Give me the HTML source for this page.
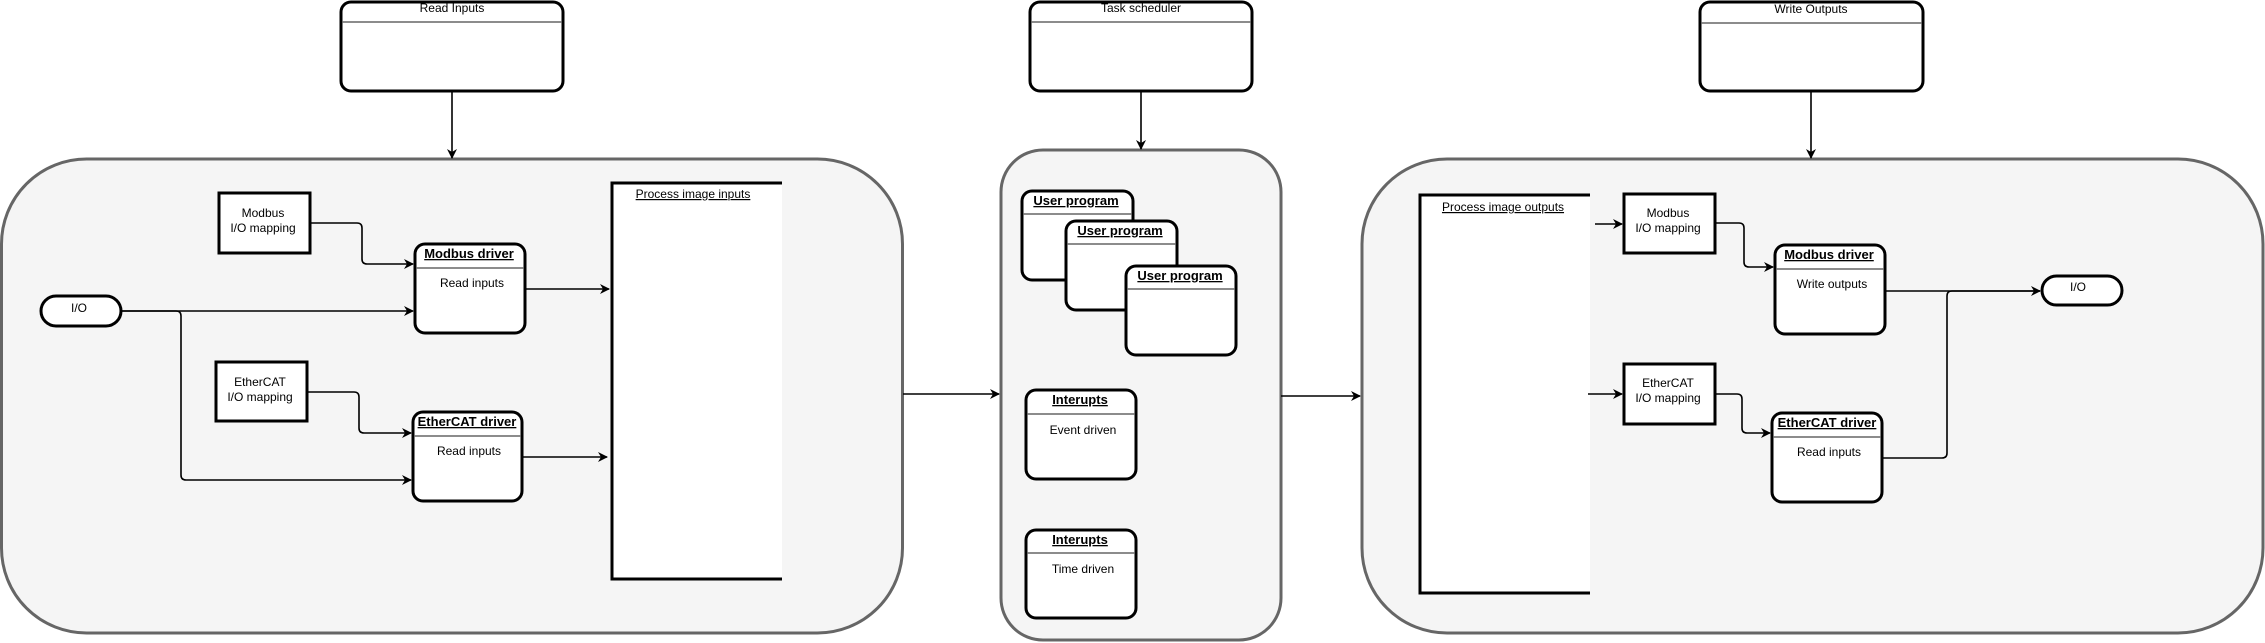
<!DOCTYPE html>
<html><head><meta charset="utf-8"><style>
html,body{margin:0;padding:0;background:#fff;}
svg{display:block;}
text{font-family:"Liberation Sans",Arial,sans-serif;fill:#000;}
.t{font-size:12px;}
.b{font-size:13px;font-weight:bold;text-decoration:underline;}
.u{font-size:12px;text-decoration:underline;}
.c{fill:#f5f5f5;stroke:#666;stroke-width:3;}
.n{fill:#fff;stroke:#000;stroke-width:3;}
.h{stroke:#666;stroke-width:1.5;}
.l{fill:none;stroke:#000;stroke-width:1.6;}
</style></head><body>
<svg width="2265" height="643" viewBox="0 0 2265 643" xmlns="http://www.w3.org/2000/svg">
<defs><marker id="a" markerWidth="10" markerHeight="10" refX="9" refY="5" orient="auto" markerUnits="userSpaceOnUse"><path d="M0,0 L10,5 L0,10 L3,5 Z" fill="#000"/></marker></defs>

<!-- containers -->
<rect class="c" x="1.5" y="159" width="901" height="474" rx="85"/>
<rect class="c" x="1001" y="150" width="280" height="490" rx="42"/>
<rect class="c" x="1362" y="159" width="901" height="474" rx="85"/>

<!-- top boxes -->
<rect class="n" x="341" y="2" width="222" height="89" rx="10"/><line class="h" x1="342" y1="22" x2="562" y2="22"/><text class="t" x="452" y="12" text-anchor="middle">Read Inputs</text>
<rect class="n" x="1030" y="2" width="222" height="89" rx="10"/><line class="h" x1="1031" y1="22" x2="1251" y2="22"/><text class="t" x="1141" y="12" text-anchor="middle">Task scheduler</text>
<rect class="n" x="1700" y="2" width="223" height="89" rx="10"/><line class="h" x1="1701" y1="23" x2="1922" y2="23"/><text class="t" x="1811" y="13" text-anchor="middle">Write Outputs</text>
<line class="l" x1="452" y1="91" x2="452" y2="158" marker-end="url(#a)"/>
<line class="l" x1="1141" y1="91" x2="1141" y2="149" marker-end="url(#a)"/>
<line class="l" x1="1811" y1="91" x2="1811" y2="158" marker-end="url(#a)"/>

<!-- left -->
<rect x="611" y="182" width="171" height="398" fill="#fff"/>
<path d="M782,183 H612 V579 H782" fill="none" stroke="#000" stroke-width="3"/>
<text class="u" x="693" y="198" text-anchor="middle">Process image inputs</text>
<rect class="n" x="219" y="193" width="91" height="60" stroke-width="2.5"/>
<text class="t" x="263" y="217" text-anchor="middle">Modbus</text><text class="t" x="263" y="232" text-anchor="middle">I/O mapping</text>
<rect class="n" x="216" y="362" width="91" height="59" stroke-width="2.5"/>
<text class="t" x="260" y="386" text-anchor="middle">EtherCAT</text><text class="t" x="260" y="401" text-anchor="middle">I/O mapping</text>
<rect class="n" x="41" y="296" width="80" height="30" rx="15"/><text class="t" x="79" y="312" text-anchor="middle">I/O</text>
<rect class="n" x="415" y="244" width="110" height="89" rx="10"/><line class="h" x1="416" y1="268" x2="524" y2="268"/>
<text class="b" x="469" y="258" text-anchor="middle">Modbus driver</text><text class="t" x="472" y="287" text-anchor="middle">Read inputs</text>
<rect class="n" x="413" y="412" width="109" height="89" rx="10"/><line class="h" x1="414" y1="436" x2="521" y2="436"/>
<text class="b" x="467" y="426" text-anchor="middle">EtherCAT driver</text><text class="t" x="469" y="455" text-anchor="middle">Read inputs</text>
<path class="l" d="M310,223 H357 Q362,223 362,228 V259 Q362,264 367,264 H413" marker-end="url(#a)"/>
<path class="l" d="M121,311 H413" marker-end="url(#a)"/>
<path class="l" d="M121,311 H176 Q181,311 181,316 V475 Q181,480 186,480 H411" marker-end="url(#a)"/>
<path class="l" d="M307,392 H354 Q359,392 359,397 V428 Q359,433 364,433 H411" marker-end="url(#a)"/>
<path class="l" d="M525,289 H609" marker-end="url(#a)"/>
<path class="l" d="M522,457 H607" marker-end="url(#a)"/>

<!-- between -->
<path class="l" d="M903,394 H999" marker-end="url(#a)"/>
<path class="l" d="M1281,396 H1360" marker-end="url(#a)"/>

<!-- middle -->
<rect class="n" x="1022" y="191" width="111" height="89" rx="10"/><line class="h" x1="1023" y1="214" x2="1132" y2="214"/><text class="b" x="1076" y="205" text-anchor="middle">User program</text>
<rect class="n" x="1066" y="221" width="111" height="89" rx="10"/><line class="h" x1="1067" y1="244" x2="1176" y2="244"/><text class="b" x="1120" y="235" text-anchor="middle">User program</text>
<rect class="n" x="1126" y="266" width="110" height="89" rx="10"/><line class="h" x1="1127" y1="289" x2="1235" y2="289"/><text class="b" x="1180" y="280" text-anchor="middle">User program</text>
<rect class="n" x="1026" y="390" width="110" height="89" rx="10"/><line class="h" x1="1027" y1="414" x2="1135" y2="414"/>
<text class="b" x="1080" y="404" text-anchor="middle">Interupts</text><text class="t" x="1083" y="434" text-anchor="middle">Event driven</text>
<rect class="n" x="1026" y="530" width="110" height="88" rx="10"/><line class="h" x1="1027" y1="553" x2="1135" y2="553"/>
<text class="b" x="1080" y="544" text-anchor="middle">Interupts</text><text class="t" x="1083" y="573" text-anchor="middle">Time driven</text>

<!-- right -->
<rect x="1419" y="194" width="171" height="400" fill="#fff"/>
<path d="M1590,195 H1420 V593 H1590" fill="none" stroke="#000" stroke-width="3"/>
<text class="u" x="1503" y="211" text-anchor="middle">Process image outputs</text>
<rect class="n" x="1624" y="194" width="91" height="59" stroke-width="2.5"/>
<text class="t" x="1668" y="217" text-anchor="middle">Modbus</text><text class="t" x="1668" y="232" text-anchor="middle">I/O mapping</text>
<rect class="n" x="1624" y="364" width="91" height="60" stroke-width="2.5"/>
<text class="t" x="1668" y="387" text-anchor="middle">EtherCAT</text><text class="t" x="1668" y="402" text-anchor="middle">I/O mapping</text>
<rect class="n" x="1775" y="245" width="110" height="89" rx="10"/><line class="h" x1="1776" y1="269" x2="1884" y2="269"/>
<text class="b" x="1829" y="259" text-anchor="middle">Modbus driver</text><text class="t" x="1832" y="288" text-anchor="middle">Write outputs</text>
<rect class="n" x="1772" y="413" width="110" height="89" rx="10"/><line class="h" x1="1773" y1="437" x2="1881" y2="437"/>
<text class="b" x="1827" y="427" text-anchor="middle">EtherCAT driver</text><text class="t" x="1829" y="456" text-anchor="middle">Read inputs</text>
<rect class="n" x="2042" y="276" width="80" height="29" rx="14.5"/><text class="t" x="2078" y="291" text-anchor="middle">I/O</text>
<path class="l" d="M1595,224 H1622" marker-end="url(#a)"/>
<path class="l" d="M1588,394 H1622" marker-end="url(#a)"/>
<path class="l" d="M1715,223 H1739 Q1744,223 1744,228 V262 Q1744,267 1749,267 H1773" marker-end="url(#a)"/>
<path class="l" d="M1715,394 H1737 Q1742,394 1742,399 V428 Q1742,433 1747,433 H1770" marker-end="url(#a)"/>
<path class="l" d="M1885,291 H2040" marker-end="url(#a)"/>
<path class="l" d="M1882,458 H1942 Q1947,458 1947,453 V296 Q1947,291 1952,291 H2040"/>
</svg>
</body></html>
